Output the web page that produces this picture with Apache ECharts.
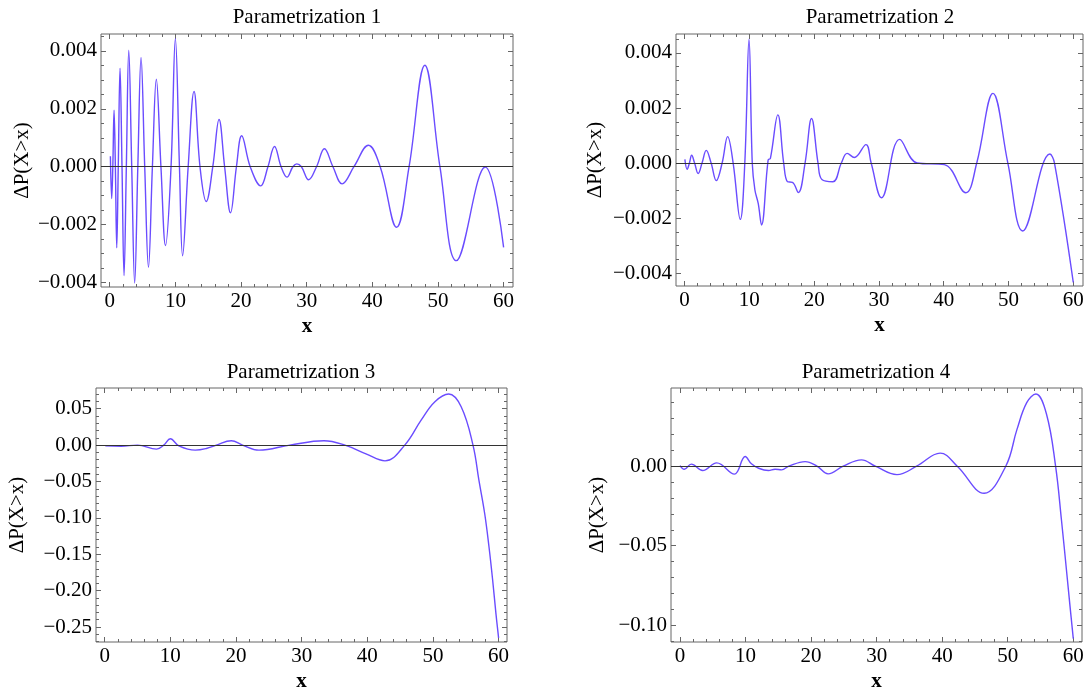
<!DOCTYPE html>
<html>
<head>
<meta charset="utf-8">
<script src="https://cdn.jsdelivr.net/npm/echarts@6/dist/echarts.min.js"></script>
<style>
html,body{margin:0;padding:0;background:#fff;}
#c{width:1092px;height:693px;}
</style>
</head>
<body>
<div id="c"></div>
<script>
// ---------- data ----------
const titles = ['Parametrization 1','Parametrization 2','Parametrization 3','Parametrization 4'];
const yName = 'ΔP(X>x)';
const xName = 'x';

const xTicks = [0,10,20,30,40,50,60];
const yTicks12 = [-0.004,-0.002,0,0.002,0.004];
const yTicks3 = [-0.25,-0.20,-0.15,-0.10,-0.05,0,0.05];
const yTicks4 = [-0.10,-0.05,0];

const p1X = [0.1,0.3,0.47,0.66,0.86,1.07,1.3,1.57,1.87,2.18,2.53,2.9,3.35,3.8,4.28,4.77,5.33,5.9,6.5,7.1,7.8,8.5,9.34,10.0,10.62,11.1,11.95,12.84,13.75,14.7,15.7,16.65,17.5,18.4,19.3,20.1,21.4,23.0,24.1,25.1,26.1,27.0,27.9,28.5,29.2,30.3,31.5,32.7,34.0,35.4,37.2,39.4,41.2,43.7,45.6,48.0,50.3,52.8,57.2,60.0];
const p1Y = [0.00036,-0.0011,0,0.00195,0,-0.0028,0,0.0034,0,-0.00376,0,0.00402,0,-0.00401,0,0.00377,0,-0.00347,0,0.00302,0,-0.00272,0,0.00442,0,-0.00307,0,0.0026,0,-0.0012,0,0.00163,0,-0.00159,0,0.00107,0,-0.00066,0,0.0007,0,-0.00036,0,0.0001,0,-0.00045,0,0.00062,0,-0.00059,0,0.00074,0,-0.00209,0,0.0035,0,-0.00324,-0.00001,-0.00278];

const p2X = [0.05,0.4,0.75,1.1,1.55,2.1,2.7,3.35,4.1,4.9,5.8,6.65,7.5,8.6,9.3,9.95,10.45,10.86,11.37,11.88,12.9,13.25,14.4,15.3,15.9,16.65,17.56,18.6,19.6,20.6,21.2,22.9,24.2,25.1,26.2,28.0,28.8,30.4,33.2,35.9,40.1,43.4,45.1,47.6,49.9,52.2,56.4,57.1,60.0];
const p2Y = [0.00013,-0.00023,0,0.00028,0,-0.00038,0,0.00046,0,-0.00064,0,0.00096,0,-0.00205,0,0.0045,0,-0.00098,-0.00147,-0.00225,0.00011,0.00017,0.00175,0,-0.00068,-0.0007,-0.00107,0,0.00162,0,-0.0006,-0.00068,0,0.00035,0.0002,0.00067,0,-0.00126,0.00086,0,-0.00006,-0.00108,0,0.00253,0,-0.00247,0.00033,0,-0.00434];

const p3X = [0.1,2.5,5.0,7.9,9.0,10.0,11.3,13.8,15.5,17.0,19.3,21.0,23.5,28.2,33.4,36.6,39.8,42.7,45.7,48.2,50.3,52.4,54.3,56.1,57.0,57.88,58.54,59.1,59.6,60.0];
const p3Y = [-0.001,-0.0015,0,-0.0055,0,0.0087,-0.001,-0.0069,-0.0046,0,0.006,0,-0.0069,0,0.006,0,-0.012,-0.0216,0,0.0344,0.0597,0.0703,0.0528,0,-0.0482,-0.094,-0.14,-0.186,-0.232,-0.265];

const p4X = [0.0,0.66,1.73,3.45,5.6,8.3,9.95,10.9,12.0,13.5,14.5,15.5,16.6,19.1,20.9,22.6,24.9,27.7,29.8,33.1,36.1,39.7,42.3,46.4,49.7,51.4,52.9,54.3,55.9,57.3,58.2,59.0,59.5,60.0];
const p4Y = [0.0004,-0.0019,0.0013,-0.0027,0.0021,-0.005,0.0061,0.0015,-0.0013,-0.0027,-0.0019,-0.0023,0,0.0029,0,-0.0048,0,0.004,0,-0.0053,0,0.0082,0,-0.017,0,0.023,0.040,0.0454,0.033,0,-0.034,-0.067,-0.088,-0.1085];

// ---------- layout ----------
const FONT = 'Liberation Serif';
const LINE = '#6a4cff';
const FRAME = '#666';
const panels = [
  {x:p1X, y:p1Y, yTicks:yTicks12, yStep:0.0005, dec:3, xr:[-1.33,61.43], yr:[-0.00415,0.00458], grid:{left:101,top:34,width:412,height:253}, title:[307,17], nameGap:68},
  {x:p2X, y:p2Y, yTicks:yTicks12, yStep:0.0005, dec:3, xr:[-1.32,61.5], yr:[-0.00447,0.00469], grid:{left:676,top:34,width:407,height:252}, title:[880,17], nameGap:70},
  {x:p3X, y:p3Y, yTicks:yTicks3, yStep:0.01, dec:2, xr:[-1.32,61.28], yr:[-0.2706,0.0785], grid:{left:96,top:388,width:411,height:254}, title:[301,372], nameGap:68},
  {x:p4X, y:p4Y, yTicks:yTicks4, yStep:0.01, dec:2, xr:[-1.37,61.33], yr:[-0.1106,0.0492], grid:{left:671,top:388,width:411,height:254}, title:[876,372], nameGap:63}
];

function minors(r, step, majors){
  const out = [];
  const k0 = Math.ceil(r[0]/step), k1 = Math.floor(r[1]/step);
  for (let k=k0;k<=k1;k++){
    const v = +(k*step).toFixed(6);
    if (v<=r[0]||v>=r[1]) continue;
    if (majors.some(m=>Math.abs(m-v)<step*1e-3)) continue;
    out.push(v);
  }
  return out;
}
function fmt(dec){ return v => { const s = Math.abs(v).toFixed(dec); return (v < -1e-12 ? '\u2212' : '') + s; }; }

const grids=[], xAxes=[], yAxes=[], series=[], title=[];
panels.forEach((p,g)=>{
  grids.push(Object.assign({show:true, borderColor:FRAME, borderWidth:1, backgroundColor:'transparent', containLabel:false}, p.grid));
  title.push({text:titles[g], left:p.title[0], top:p.title[1], textAlign:'center', textVerticalAlign:'middle', padding:0,
    textStyle:{fontFamily:FONT, fontSize:21, fontWeight:'normal', color:'#000'}});
  const xMin = minors(p.xr, 2, xTicks);
  const yMin = minors(p.yr, p.yStep, p.yTicks);
  const base = {gridIndex:g, type:'value', splitLine:{show:false}, axisLine:{show:false, onZero:false}};
  const xi = xAxes.length;
  xAxes.push(Object.assign({}, base, {position:'bottom', min:p.xr[0], max:p.xr[1],
    axisTick:{show:true, inside:true, length:5, customValues:xTicks, lineStyle:{color:FRAME}},
    axisLabel:{show:true, customValues:xTicks, margin:4, fontFamily:FONT, fontSize:21, color:'#000'},
    name:xName, nameLocation:'middle', nameGap:29, nameTextStyle:{fontFamily:FONT, fontSize:21, fontWeight:'bold', color:'#000'}}));
  xAxes.push(Object.assign({}, base, {position:'bottom', min:p.xr[0], max:p.xr[1],
    axisTick:{show:true, inside:true, length:3, customValues:xMin, lineStyle:{color:FRAME}}, axisLabel:{show:false}}));
  xAxes.push(Object.assign({}, base, {position:'top', min:p.xr[0], max:p.xr[1],
    axisTick:{show:true, inside:true, length:5, customValues:xTicks, lineStyle:{color:FRAME}}, axisLabel:{show:false}}));
  xAxes.push(Object.assign({}, base, {position:'top', min:p.xr[0], max:p.xr[1],
    axisTick:{show:true, inside:true, length:3, customValues:xMin, lineStyle:{color:FRAME}}, axisLabel:{show:false}}));
  const yi = yAxes.length;
  yAxes.push(Object.assign({}, base, {position:'left', min:p.yr[0], max:p.yr[1],
    axisTick:{show:true, inside:true, length:5, customValues:p.yTicks, lineStyle:{color:FRAME}},
    axisLabel:{show:true, customValues:p.yTicks, margin:4, formatter:fmt(p.dec), fontFamily:FONT, fontSize:21, color:'#000'},
    name:yName, nameLocation:'middle', nameRotate:90, nameGap:p.nameGap, nameTextStyle:{fontFamily:FONT, fontSize:21, color:'#000'}}));
  yAxes.push(Object.assign({}, base, {position:'left', min:p.yr[0], max:p.yr[1],
    axisTick:{show:true, inside:true, length:3, customValues:yMin, lineStyle:{color:FRAME}}, axisLabel:{show:false}}));
  yAxes.push(Object.assign({}, base, {position:'right', min:p.yr[0], max:p.yr[1],
    axisTick:{show:true, inside:true, length:5, customValues:p.yTicks, lineStyle:{color:FRAME}}, axisLabel:{show:false}}));
  yAxes.push(Object.assign({}, base, {position:'right', min:p.yr[0], max:p.yr[1],
    axisTick:{show:true, inside:true, length:3, customValues:yMin, lineStyle:{color:FRAME}}, axisLabel:{show:false}}));
  series.push({type:'line', xAxisIndex:xi, yAxisIndex:yi, showSymbol:false, smooth:0.4, clip:true,
    data:p.x.map((v,i)=>[v,p.y[i]]), lineStyle:{color:LINE, width:1.4},
    markLine:{silent:true, symbol:['none','none'], label:{show:false}, animation:false,
      lineStyle:{color:'#333', type:'solid', width:1}, data:[{yAxis:0}]}});
});

const chart = echarts.init(document.getElementById('c'), null, {renderer:'canvas'});
chart.setOption({animation:false, backgroundColor:'#fff', title, grid:grids, xAxis:xAxes, yAxis:yAxes, series});
</script>
</body>
</html>
